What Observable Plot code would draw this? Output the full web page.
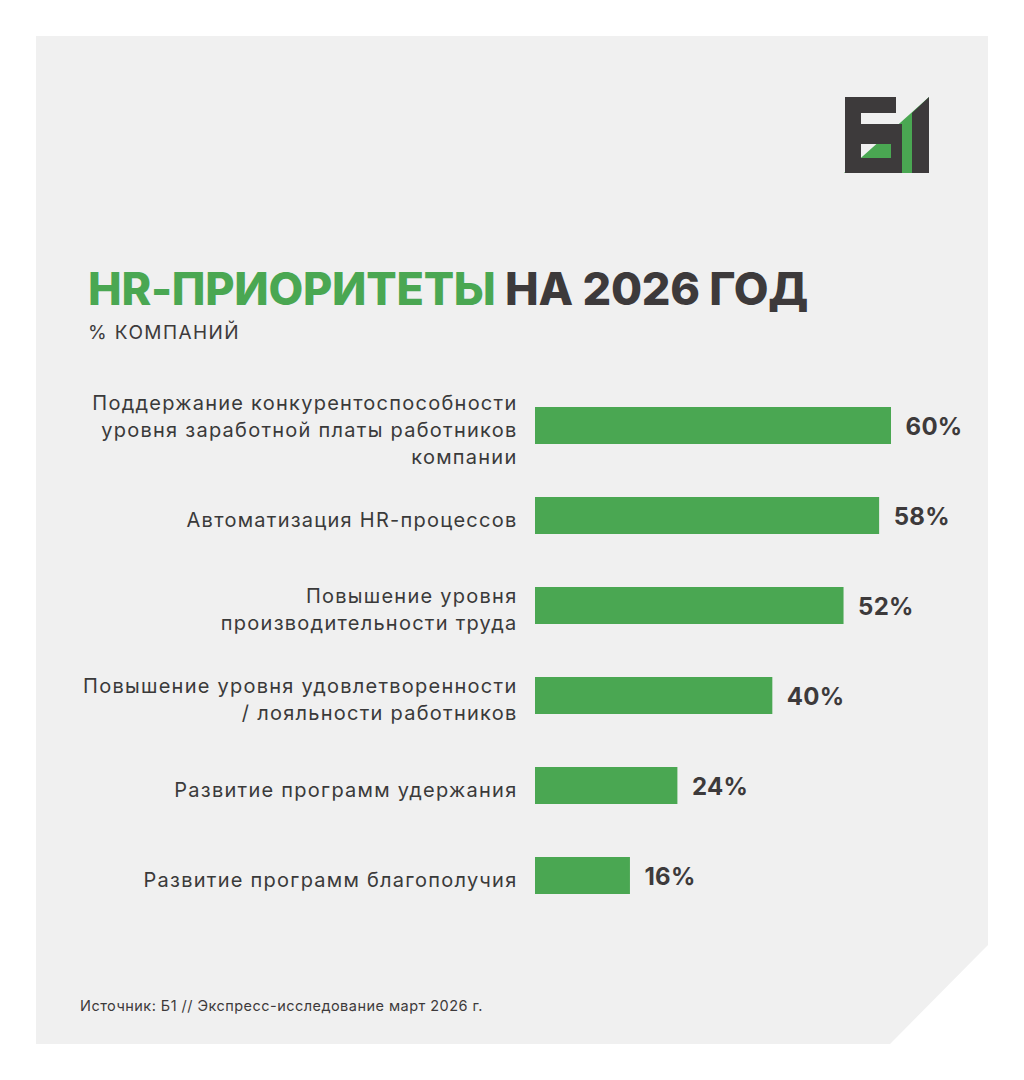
<!DOCTYPE html>
<html>
<head>
<meta charset="utf-8">
<script src="https://cdn.jsdelivr.net/npm/d3@7"></script>
<script src="https://cdn.jsdelivr.net/npm/@observablehq/plot@0.6"></script>
<style>
  html, body { margin: 0; padding: 0; background: #ffffff; }
  #page { position: relative; width: 1024px; height: 1080px; overflow: hidden; font-family: Inter, "Open Sans", sans-serif; }
  #card { position: absolute; left: 36px; top: 36px; width: 952px; height: 1008px; background: #f0f0f0;
          clip-path: polygon(0 0, 100% 0, 100% 909px, 854px 100%, 0 100%); }
  #logo { position: absolute; left: 838px; top: 90px; }
  #title { position: absolute; left: 88px; top: 262px; margin: 0; font-size: 45px; font-weight: 800; line-height: 54px; white-space: nowrap; color: #3d3a3b; }
  #title .g { color: #4aa752; }
  #subtitle { position: absolute; left: 88px; top: 320px; margin: 0; font-size: 19px; font-weight: 400; line-height: 26px; color: #3d3a3b; white-space: nowrap; }
  #chart { position: absolute; left: 0; top: 380px; }
  #source { position: absolute; left: 80px; top: 996px; margin: 0; font-size: 14.5px; line-height: 20px; color: #3d3a3b; white-space: nowrap; }
  .cat-labels text { letter-spacing: 1.25px; }
  .val-labels text { letter-spacing: 0.3px; }
</style>
</head>
<body>
<div id="page">
  <div id="card"></div>
  <svg id="logo" width="100" height="90" viewBox="838 90 100 90">
    <polygon points="844,173 929,97 929,173" fill="#4aa752"/>
    <path fill="#3d3a3b" fill-rule="evenodd"
      d="M845,97 H896 V113 H861 V124 H902 V173 H845 Z M861,144 V158 H891 V144 Z"/>
    <polygon points="912,113 929,97 929,173 912,173" fill="#3d3a3b"/>
  </svg>
  <h1 id="title"><span class="g">HR-ПРИОРИТЕТЫ</span> НА 2026 ГОД</h1>
  <p id="subtitle">% КОМПАНИЙ</p>
  <div id="chart"></div>
  <p id="source">Источник: Б1 // Экспресс-исследование март 2026 г.</p>
</div>
<script>
// ---- data ----
const categories = [
  "Поддержание конкурентоспособности уровня заработной платы работников компании",
  "Автоматизация HR-процессов",
  "Повышение уровня производительности труда",
  "Повышение уровня удовлетворенности / лояльности работников",
  "Развитие программ удержания",
  "Развитие программ благополучия"
];
const tickLabels = [
  "Поддержание конкурентоспособности\nуровня заработной платы работников\nкомпании",
  "Автоматизация HR-процессов",
  "Повышение уровня\nпроизводительности труда",
  "Повышение уровня удовлетворенности\n/ лояльности работников",
  "Развитие программ удержания",
  "Развитие программ благополучия"
];
const values = [60, 58, 52, 40, 24, 16];

const data = categories.map((c, i) => ({ cat: c, label: tickLabels[i], value: values[i] }));

const chart = Plot.plot({
  width: 1024,
  height: 540,
  marginLeft: 535,
  marginRight: 133,
  marginTop: 0,
  marginBottom: 0,
  style: { background: "transparent", fontFamily: "Inter, 'Open Sans', sans-serif", overflow: "visible" },
  x: { domain: [0, 60], axis: null },
  y: { domain: categories, paddingInner: 0.59, paddingOuter: 0.295, axis: null },
  marks: [
    Plot.barX(data, { x: "value", y: "cat", fill: "#4aa752" }),
    Plot.text(data, { x: 0, y: "cat", text: "label", textAnchor: "end", dx: -18, dy: 2,
      fontSize: 20, lineHeight: 1.35, fill: "#3a3a3a", className: "cat-labels" }),
    Plot.text(data, { x: "value", y: "cat", text: d => d.value + "%", textAnchor: "start", dx: 14, dy: 1,
      fontSize: 24, fontWeight: 700, fill: "#3d3a3b", className: "val-labels" })
  ]
});
document.getElementById("chart").appendChild(chart);

// stretch the heading texts to the reference width
function fitWidth(el, target) {
  const w = el.getBoundingClientRect().width;
  const n = el.textContent.length;
  el.style.letterSpacing = ((target - w) / n) + "px";
}
fitWidth(document.getElementById("title"), 720);
fitWidth(document.getElementById("subtitle"), 152);
fitWidth(document.getElementById("source"), 403);
</script>
</body>
</html>
